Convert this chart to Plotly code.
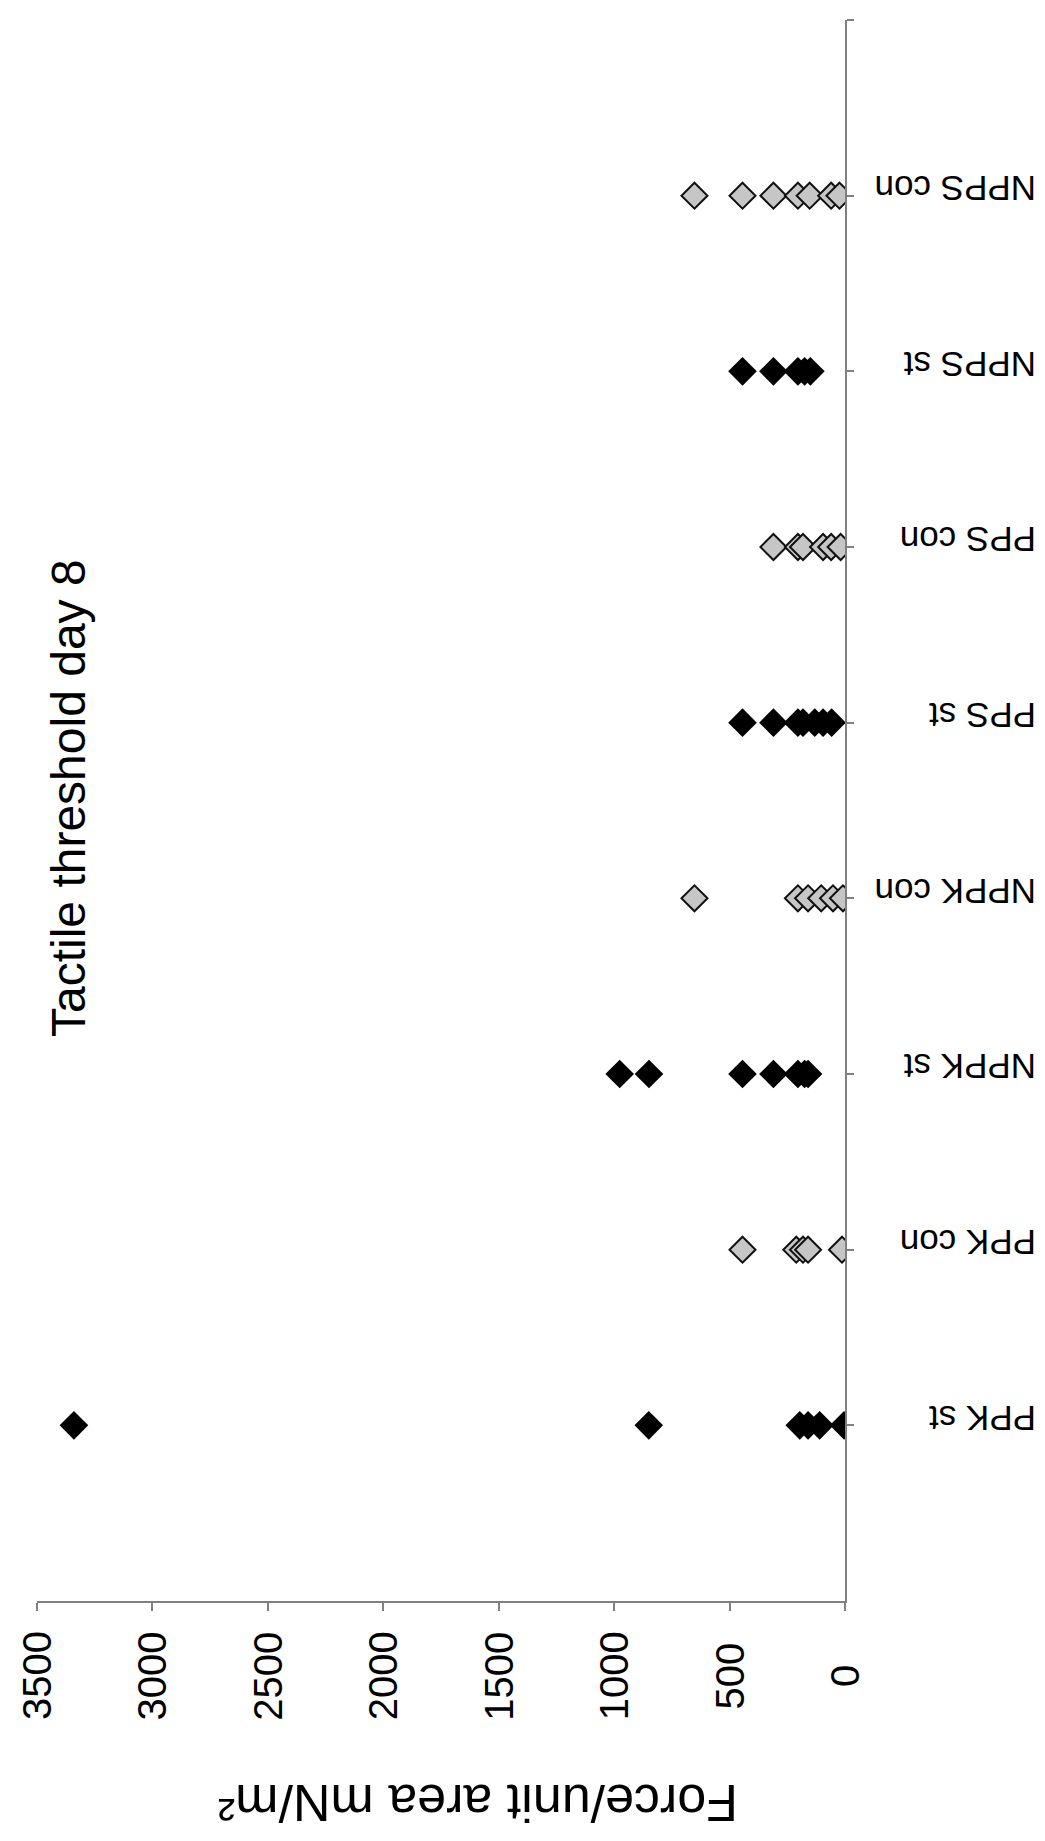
import plotly.graph_objects as go

# ---------------- data ----------------
categories = ["PPK st", "PPK con", "NPPK st", "NPPK con",
              "PPS st", "PPS con", "NPPS st", "NPPS con"]

ppk_st = [3340, 850, 196, 160, 110, 4]
ppk_con = [444, 211, 182, 160, 13]
nppk_st = [976, 849, 444, 310, 204, 175, 160]
nppk_con = [652, 204, 160, 103, 52, 9]
pps_st = [444, 310, 204, 182, 131, 95, 58]
pps_con = [310, 204, 182, 95, 60, 19]
npps_st = [444, 310, 204, 175, 150]
npps_con = [652, 444, 310, 204, 153, 60, 24]

series_values = [ppk_st, ppk_con, nppk_st, nppk_con,
                 pps_st, pps_con, npps_st, npps_con]
series_kind = ["st", "con", "st", "con", "st", "con", "st", "con"]

value_ticks = [0, 500, 1000, 1500, 2000, 2500, 3000, 3500]
value_tick_labels = ["0", "500", "1000", "1500", "2000", "2500", "3000", "3500"]

title_text = "Tactile threshold day 8"
value_axis_title = "Force/unit area mN/m²"

# ---------------- layout constants ----------------
W, H = 1045, 1841
ML, MR, MT, MB = 29, 208, 12, 248
PW = W - ML - MR
PH = H - MT - MB
FONT = "Liberation Sans, Arial, sans-serif"


def px_x(px):
    return (px - ML) / PW


def px_y(py):
    return (H - MB - py) / PH


fig = go.Figure()

for i, (cat, vals, kind) in enumerate(zip(categories, series_values, series_kind)):
    pos = i + 1
    if kind == "st":
        marker = dict(symbol="diamond", size=22, color="#000000",
                      line=dict(color="#000000", width=0))
    else:
        marker = dict(symbol="diamond", size=20, color="#c6c6c6",
                      line=dict(color="#111111", width=2))
    fig.add_trace(go.Scatter(
        x=vals, y=[pos] * len(vals), mode="markers", marker=marker,
        name=cat, showlegend=False, hoverinfo="x+name"))

annotations = []
# title (rotated, reading bottom to top)
annotations.append(dict(text=title_text, xref="paper", yref="paper",
                        x=px_x(60), y=px_y(790), xanchor="center", yanchor="middle",
                        textangle=-90, showarrow=False,
                        font=dict(family=FONT, size=48, color="#000")))
# value axis title (upside down)
annotations.append(dict(text=value_axis_title, xref="paper", yref="paper",
                        x=px_x(470), y=px_y(1795), xanchor="center", yanchor="middle",
                        textangle=180, showarrow=False,
                        font=dict(family=FONT, size=52, color="#000")))
# value tick labels (rotated)
for v, lab in zip(value_ticks, value_tick_labels):
    annotations.append(dict(text=lab, xref="x", yref="paper",
                            x=v, y=px_y(1668), xanchor="center", yanchor="middle",
                            textangle=-90, showarrow=False,
                            font=dict(family=FONT, size=40, color="#000")))
# category labels (upside down)
for i, cat in enumerate(categories):
    annotations.append(dict(text=cat, xref="paper", yref="y",
                            x=px_x(1030), y=i + 1, yshift=7,
                            xanchor="right", yanchor="middle",
                            textangle=180, showarrow=False,
                            font=dict(family=FONT, size=35, color="#000")))

fig.update_layout(
    width=W, height=H,
    margin=dict(l=ML, r=MR, t=MT, b=MB, autoexpand=False),
    paper_bgcolor="white", plot_bgcolor="white",
    showlegend=False,
    annotations=annotations,
    xaxis=dict(range=[3500, 0], tickvals=value_ticks, showticklabels=False,
               ticks="outside", ticklen=8, tickwidth=1.5, tickcolor="#808080",
               showline=True, linecolor="#808080", linewidth=1.5,
               showgrid=False, zeroline=False, fixedrange=True),
    yaxis=dict(range=[0, 9], side="right", tickvals=list(range(1, 10)),
               showticklabels=False, ticks="outside", ticklen=7, tickwidth=1.5,
               tickcolor="#808080", showline=True, linecolor="#808080",
               linewidth=1.5, showgrid=False, zeroline=False, fixedrange=True),
)

fig.write_html("out.html")
